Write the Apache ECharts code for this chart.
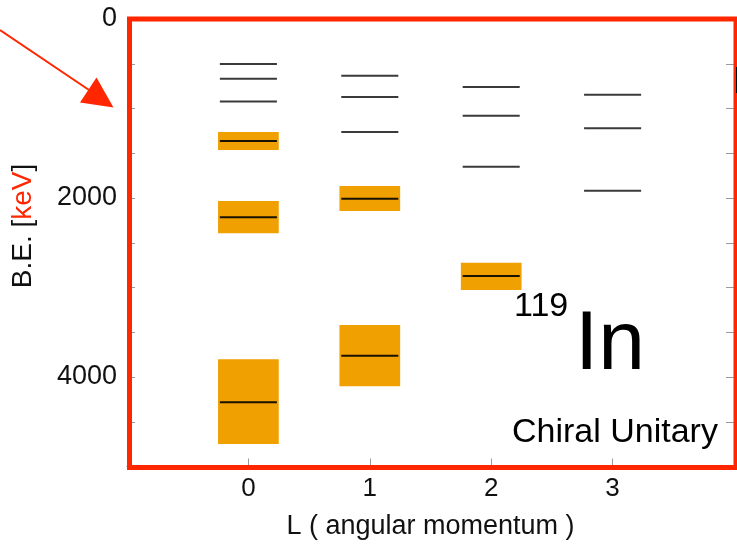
<!DOCTYPE html>
<html>
<head>
<meta charset="utf-8">
<script src="https://cdn.jsdelivr.net/npm/echarts@6/dist/echarts.min.js"></script>
<style>
html,body{margin:0;padding:0;background:#fff;}
#chart{width:737px;height:549px;}
</style>
</head>
<body>
<div id="chart"></div>
<script>
// Angular momentum categories (x ticks)
const xTicks = [0, 1, 2, 3];
// Thin (calculated) levels: L and binding energy (keV)
const lineL = [0, 0, 0, 1, 1, 1, 2, 2, 2, 3, 3, 3];
const lineE = [503, 668, 922, 635, 872, 1262, 760, 1080, 1650, 846, 1221, 1918];
// Experimental levels with widths (orange boxes)
const boxL = [0, 0, 0, 1, 1, 2];
const boxE = [1362, 2216, 4283, 2008, 3762, 2872];
const boxLow = [1263, 2034, 3802, 1866, 3419, 2723];
const boxHigh = [1464, 2394, 4749, 2145, 4104, 3028];
// y tick labels
const yLabelVals = [0, 2000, 4000];

const FONT = '"Liberation Sans", Arial, Helvetica, sans-serif';
const ORANGE = '#f0a000';
const RED = '#ff2600';

const lineData = lineL.map((l, i) => [l, lineE[i]]);
const boxData = boxL.map((l, i) => [l, boxE[i], boxLow[i], boxHigh[i]]);

const chart = echarts.init(document.getElementById('chart'));

const tickStyle = {show: true, inside: true, length: 8, lineStyle: {color: '#9a9a9a', width: 1}};
const axisLineStyle = {show: true, onZero: false, lineStyle: {color: '#777', width: 1}};

chart.setOption({
  animation: false,
  backgroundColor: '#fff',
  grid: {left: 127, top: 19, width: 610, height: 447.5},
  xAxis: {
    type: 'value', min: -1, max: 4, interval: 1,
    axisLine: axisLineStyle,
    axisTick: tickStyle,
    splitLine: {show: false},
    axisLabel: {
      margin: 9, color: '#111', fontSize: 26, fontFamily: FONT,
      formatter: v => (xTicks.indexOf(v) >= 0 ? String(v) : '')
    },
    name: 'L ( angular momentum )',
    nameLocation: 'middle', nameGap: 47,
    nameTextStyle: {color: '#111', fontSize: 27, fontFamily: FONT}
  },
  yAxis: [{
    type: 'value', inverse: true, min: 0, max: 5000, interval: 500,
    axisLine: axisLineStyle,
    axisTick: tickStyle,
    splitLine: {show: false},
    axisLabel: {
      margin: 10, color: '#111', fontSize: 27, fontFamily: FONT,
      formatter: v => (yLabelVals.indexOf(v) >= 0 ? String(v) : '')
    }
  }, {
    type: 'value', inverse: true, min: 0, max: 5000, interval: 500, position: 'right',
    axisLine: axisLineStyle,
    axisTick: tickStyle,
    splitLine: {show: false},
    axisLabel: {show: false}
  }],
  series: [{
    type: 'custom',
    data: boxData,
    encode: {x: 0, y: [1, 2, 3]},
    renderItem: function (params, api) {
      const l = api.value(0);
      const a = api.coord([l, api.value(2)]);
      const b = api.coord([l, api.value(3)]);
      const c = api.coord([l, api.value(1)]);
      const w = api.size([0.5, 0])[0];
      const lw = api.size([0.47, 0])[0];
      return {
        type: 'group',
        children: [{
          type: 'rect',
          shape: {x: a[0] - w / 2, y: Math.min(a[1], b[1]), width: w, height: Math.abs(b[1] - a[1])},
          style: {fill: ORANGE}
        }, {
          type: 'line',
          shape: {x1: c[0] - lw / 2, y1: c[1], x2: c[0] + lw / 2, y2: c[1]},
          style: {stroke: '#1a1200', lineWidth: 2}
        }]
      };
    }
  }, {
    type: 'custom',
    data: lineData,
    encode: {x: 0, y: 1},
    renderItem: function (params, api) {
      const c = api.coord([api.value(0), api.value(1)]);
      const lw = api.size([0.47, 0])[0];
      return {
        type: 'line',
        shape: {x1: c[0] - lw / 2, y1: c[1], x2: c[0] + lw / 2, y2: c[1]},
        style: {stroke: '#3a3a3a', lineWidth: 2}
      };
    }
  }],
  graphic: [
    // red frame around the plot
    {type: 'rect', z: 100, shape: {x: 129.5, y: 19, width: 606.5, height: 448.5},
     style: {fill: null, stroke: RED, lineWidth: 5}},
    // black mark at right edge
    {type: 'rect', z: 101, shape: {x: 736, y: 67, width: 2, height: 26}, style: {fill: '#000'}},
    // red arrow
    {type: 'line', z: 100, shape: {x1: 0, y1: 30, x2: 92, y2: 92}, style: {stroke: RED, lineWidth: 2}},
    {type: 'polygon', z: 100, shape: {points: [[113.5, 107.5], [96.5, 77.5], [80, 102.5]]}, style: {fill: RED}},
    // y axis title
    {type: 'text', z: 100, x: 23, y: 226, rotation: Math.PI / 2,
     style: {text: 'B.E. [{r|keV}]', fontSize: 28, fontFamily: FONT, fill: '#111',
             align: 'center', verticalAlign: 'middle',
             rich: {r: {fill: RED, fontSize: 28, fontFamily: FONT}}}},
    // nucleus label
    {type: 'text', z: 100, x: 514, y: 307,
     style: {text: '119', fontSize: 34, fontFamily: FONT, fill: '#000', align: 'left', verticalAlign: 'middle'}},
    {type: 'text', z: 100, x: 575, y: 346,
     style: {text: 'In', fontSize: 84, fontFamily: FONT, fill: '#000', align: 'left', verticalAlign: 'middle'}},
    {type: 'text', z: 100, x: 512, y: 433,
     style: {text: 'Chiral Unitary', fontSize: 34, fontFamily: FONT, fill: '#000', align: 'left', verticalAlign: 'middle'}}
  ]
});
</script>
</body>
</html>
